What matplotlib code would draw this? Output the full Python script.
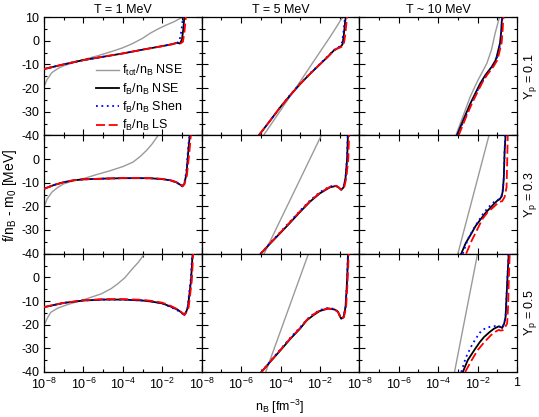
import numpy as np
import matplotlib
matplotlib.use('Agg')
import matplotlib.pyplot as plt
from matplotlib.ticker import FixedLocator, MultipleLocator, NullFormatter

plt.rcParams['font.family'] = ['Liberation Sans', 'DejaVu Sans']
plt.rcParams['mathtext.default'] = 'regular'

# column / row labels
temps = ['T = 1 MeV', 'T = 5 MeV', 'T ~ 10 MeV']
yps = ['0.1', '0.3', '0.5']
series_labels = [r'f$_{tot}$/n$_B$ NSE', r'f$_B$/n$_B$ NSE',
                 r'f$_B$/n$_B$ Shen', r'f$_B$/n$_B$ LS']

# ---- T = 1 MeV, Yp = 0.1 (x values are log10 n_B) ----
t1_y1_tot_x = [-8, -7.85, -7.6, -7.3, -7, -6.5, -6, -5.2, -4.5, -4, -3.5, -3, -2.6, -2.2, -1.8, -1.4, -1.1, -0.95]
t1_y1_tot_f = [-19.5, -16.5, -13.5, -11.8, -10.6, -9.3, -8.0, -6.2, -4.4, -3.0, -1.2, 1.0, 3.2, 5.0, 6.6, 8.0, 9.4, 10]
t1_y1_nse_x = [-8, -7, -6, -5, -4, -3, -2, -1.5, -1.25, -1.1, -1.0, -0.93, -0.88]
t1_y1_nse_f = [-12, -10, -8.2, -6.8, -5.4, -3.8, -2.3, -1.5, -0.9, -1.2, 0.5, 5, 10]
t1_y1_shen_x = [-8, -7, -6, -5, -4, -3, -2, -1.5, -1.25, -1.15, -1.07, -1.0, -0.95]
t1_y1_shen_f = [-12, -10, -8.2, -6.8, -5.4, -3.8, -2.3, -1.5, -0.9, -0.5, 2, 6, 10]
t1_y1_ls_x = [-8, -7, -6, -5, -4, -3, -2, -1.5, -1.25, -1.1, -0.95, -0.87, -0.8]
t1_y1_ls_f = [-12, -10, -8.2, -6.8, -5.4, -3.8, -2.3, -1.5, -0.9, -1.3, -0.5, 4, 10]

# ---- T = 5 MeV, Yp = 0.1 ----
t5_y1_tot_x = [-4.86, -4, -3, -2, -1.5, -1.1, -0.95, -0.8]
t5_y1_tot_f = [-40, -29.5, -17.2, -4.8, 1.4, 6.6, 8.7, 10]
t5_y1_nse_x = [-5.1, -4.5, -4, -3.5, -3, -2.5, -2, -1.6, -1.3, -1.1, -0.95, -0.85, -0.78, -0.72, -0.69]
t5_y1_nse_f = [-40, -33.5, -28, -23, -18.3, -14, -10, -6.8, -4.2, -3.2, -2.6, -1.5, 3, 8, 10]
t5_y1_shen_x = [-5.1, -4.5, -4, -3.5, -3, -2.5, -2, -1.6, -1.3, -1.1, -0.95, -0.87, -0.8, -0.75, -0.72]
t5_y1_shen_f = [-40, -33.5, -28, -22.8, -18.1, -13.8, -9.8, -6.6, -4.0, -3.0, -2.2, -0.5, 4, 8, 10]
t5_y1_ls_x = [-5.1, -4.5, -4, -3.5, -3, -2.5, -2, -1.6, -1.3, -1.1, -0.95, -0.8, -0.72, -0.66, -0.62]
t5_y1_ls_f = [-40, -33.5, -28, -23, -18.3, -14, -10, -6.8, -4.2, -3.2, -2.8, -2.0, 2, 7, 10]

# ---- T ~ 10 MeV, Yp = 0.1 ----
t10_y1_tot_x = [-3.1, -2.7, -2.38, -2.0, -1.53, -1.3, -1.11, -1.0, -0.92, -0.88]
t10_y1_tot_f = [-40, -31, -23.8, -17, -9.6, -4, 3.1, 6.5, 9, 10]
t10_y1_nse_x = [-3.05, -2.7, -2.37, -2.1, -1.86, -1.6, -1.28, -1.1, -1.03, -0.95, -0.86, -0.8, -0.77, -0.74]
t10_y1_nse_f = [-40, -33, -26.6, -22, -18, -14.5, -11, -8.5, -6.8, -4, -1, 4, 8.7, 10]
t10_y1_shen_x = [-3.02, -2.66, -2.33, -2.06, -1.82, -1.56, -1.25, -1.08, -1.0, -0.92, -0.84, -0.79, -0.76, -0.73]
t10_y1_shen_f = [-40, -33, -26.6, -22, -18, -14.5, -11, -8.5, -6.8, -4, -1, 4, 8.7, 10]
t10_y1_ls_x = [-2.96, -2.62, -2.29, -2.02, -1.78, -1.52, -1.2, -1.02, -0.95, -0.87, -0.78, -0.73, -0.7, -0.68]
t10_y1_ls_f = [-40, -33, -26.6, -22, -18, -14.5, -11, -8.5, -6.8, -4, -1, 4, 8.7, 10]

# ---- T = 1 MeV, Yp = 0.3 ----
t1_y3_tot_x = [-8, -7.85, -7.6, -7.3, -7, -6.5, -6, -5.3, -4.66, -4.0, -3.48, -3.1, -2.8, -2.5, -2.21]
t1_y3_tot_f = [-20.5, -17, -14, -12, -10.5, -9.2, -8.3, -6.5, -5.0, -3.2, -1.3, 1.2, 3.6, 6.5, 10]
t1_y3_nse_x = [-8, -7.5, -7, -6.5, -6, -5, -4, -3, -2.5, -2, -1.6, -1.3, -1.1, -0.98, -0.88, -0.77, -0.7, -0.65, -0.6]
t1_y3_nse_f = [-12.6, -11, -9.8, -9, -8.6, -8.3, -8.1, -8.1, -8.2, -8.5, -9.0, -9.8, -10.8, -11.6, -10.5, -6.2, 1, 6, 10]
t1_y3_shen_x = [-8, -7.5, -7, -6.5, -6, -5, -4, -3, -2.5, -2, -1.6, -1.3, -1.1, -0.98, -0.88, -0.78, -0.72, -0.67, -0.62]
t1_y3_shen_f = [-12.6, -11, -9.8, -9, -8.6, -8.3, -8.1, -8.1, -8.2, -8.5, -9.0, -9.8, -10.8, -11.4, -10.2, -5.5, 1, 6, 10]
t1_y3_ls_x = [-8, -7.5, -7, -6.5, -6, -5, -4, -3, -2.5, -2, -1.6, -1.3, -1.1, -0.98, -0.88, -0.75, -0.66, -0.6, -0.55]
t1_y3_ls_f = [-12.6, -11, -9.8, -9, -8.6, -8.3, -8.0, -8.0, -8.1, -8.4, -8.9, -9.7, -10.6, -11.4, -10.8, -7.0, 0, 5, 10]

# ---- T = 5 MeV, Yp = 0.3 ----
t5_y3_tot_x = [-4.83, -4, -3, -2.2, -2.0, -1.92]
t5_y3_tot_f = [-40, -25.7, -8.5, 5.3, 8.8, 10]
t5_y3_nse_x = [-5, -4.5, -4, -3.5, -3, -2.5, -2, -1.5, -1.2, -1.05, -0.92, -0.8, -0.7, -0.62, -0.58]
t5_y3_nse_f = [-40, -35.5, -31.2, -26.8, -22.3, -18, -14.5, -12, -11.4, -12.0, -13, -12, -8, 0, 10]
t5_y3_shen_x = [-5, -4.5, -4, -3.5, -3, -2.5, -2, -1.5, -1.2, -1.05, -0.92, -0.8, -0.7, -0.63, -0.59]
t5_y3_shen_f = [-40, -35.3, -30.8, -26.3, -21.8, -17.5, -14.0, -11.6, -11.2, -11.9, -12.9, -12, -8, 0, 10]
t5_y3_ls_x = [-5, -4.5, -4, -3.5, -3, -2.5, -2, -1.5, -1.2, -1.05, -0.92, -0.78, -0.66, -0.56, -0.52]
t5_y3_ls_f = [-40, -35.4, -31.0, -26.5, -22.0, -17.8, -14.3, -11.8, -11.3, -12.0, -13.0, -12.5, -8, 0, 10]

# ---- T ~ 10 MeV, Yp = 0.3 ----
t10_y3_tot_x = [-3.0, -2.2, -1.42]
t10_y3_tot_f = [-40, -14.7, 10]
t10_y3_nse_x = [-2.83, -2.6, -2.33, -2.1, -1.83, -1.6, -1.33, -1.15, -1.0, -0.88, -0.78, -0.72, -0.67, -0.63, -0.58]
t10_y3_nse_f = [-40, -35.5, -31.7, -28.3, -25.3, -22.8, -20.4, -18.8, -17.6, -17.0, -15.8, -13.5, -8, 3, 10]
t10_y3_shen_x = [-2.75, -2.5, -2.17, -1.9, -1.67, -1.4, -1.17, -1.0, -0.88, -0.78, -0.72, -0.67, -0.63, -0.6]
t10_y3_shen_f = [-40, -34, -29, -25.5, -22.5, -20, -18.2, -17.4, -16.8, -15.5, -13, -8, 3, 10]
t10_y3_ls_x = [-2.58, -2.3, -2.0, -1.75, -1.5, -1.2, -0.92, -0.75, -0.63, -0.53, -0.5, -0.47]
t10_y3_ls_f = [-40, -34.5, -29.5, -25.3, -22.6, -20.4, -18.2, -17.8, -16.1, -11.9, -2, 10]

# ---- T = 1 MeV, Yp = 0.5 ----
t1_y5_tot_x = [-8, -7.85, -7.66, -7.3, -6.8, -6, -5.1, -4.6, -4.27, -3.9, -3.6, -3.2, -2.9]
t1_y5_tot_f = [-20.5, -17.5, -14.8, -13, -11.5, -9.5, -7, -4.8, -2.8, -0.2, 2.8, 6.5, 10]
t1_y5_nse_x = [-8, -7, -6, -5, -4, -3, -2.5, -2, -1.56, -1.22, -1.0, -0.88, -0.78, -0.7, -0.62, -0.54, -0.46]
t1_y5_nse_f = [-12.6, -10.8, -9.8, -9.4, -9.4, -9.8, -10.3, -11, -12.4, -13.7, -15, -15.9, -14.5, -12.6, -7, -1.4, 10]
t1_y5_shen_x = [-8, -7, -6, -5, -4, -3, -2.5, -2, -1.56, -1.22, -1.0, -0.88, -0.79, -0.71, -0.64, -0.56, -0.48]
t1_y5_shen_f = [-12.6, -10.8, -9.8, -9.4, -9.4, -9.8, -10.3, -11, -12.6, -14.0, -15.2, -15.9, -14.5, -12.6, -7, -1.4, 10]
t1_y5_ls_x = [-8, -7, -6, -5, -4, -3, -2.5, -2, -1.56, -1.22, -1.0, -0.86, -0.74, -0.66, -0.58, -0.5, -0.43]
t1_y5_ls_f = [-12.6, -10.8, -9.7, -9.2, -9.2, -9.5, -10.0, -10.7, -12.1, -13.5, -14.9, -15.8, -14.5, -12.6, -7, -1.4, 10]

# ---- T = 5 MeV, Yp = 0.5 ----
t5_y5_tot_x = [-4.75, -3.7, -2.58]
t5_y5_tot_f = [-40, -15.8, 10]
t5_y5_nse_x = [-4.97, -4.5, -4, -3.5, -3, -2.67, -2.3, -2, -1.58, -1.25, -1.08, -0.98, -0.92, -0.8, -0.7, -0.63, -0.57]
t5_y5_nse_f = [-40, -35.5, -30.8, -26, -21.6, -18.2, -15.8, -14.2, -13.2, -13.6, -14.6, -16.5, -17.5, -16.8, -12.5, -2.7, 10]
t5_y5_shen_x = [-4.97, -4.5, -4, -3.5, -3, -2.67, -2.3, -2, -1.58, -1.25, -1.08, -0.98, -0.92, -0.8, -0.7, -0.63, -0.58]
t5_y5_shen_f = [-40, -35.3, -30.4, -25.5, -21.1, -17.8, -15.3, -13.8, -12.9, -13.4, -14.5, -16.4, -17.4, -16.8, -12.5, -2.7, 10]
t5_y5_ls_x = [-4.97, -4.5, -4, -3.5, -3, -2.67, -2.3, -2, -1.58, -1.25, -1.08, -0.98, -0.92, -0.78, -0.67, -0.6, -0.54]
t5_y5_ls_f = [-40, -35.4, -30.6, -25.8, -21.4, -18.0, -15.5, -14.0, -13.1, -13.6, -14.7, -16.6, -17.6, -16.8, -12.5, -2.7, 10]

# ---- T ~ 10 MeV, Yp = 0.5 ----
t10_y5_tot_x = [-3.17, -2.6, -2.0]
t10_y5_tot_f = [-40, -15.6, 10]
t10_y5_nse_x = [-2.75, -2.5, -2.17, -1.9, -1.67, -1.4, -1.17, -1.0, -0.92, -0.83, -0.75, -0.65, -0.58, -0.5, -0.42]
t10_y5_nse_f = [-40, -35, -30.8, -27.5, -25.2, -23.2, -21.7, -21.0, -20.7, -21.0, -21.4, -19.5, -16.7, -2.7, 10]
t10_y5_shen_x = [-2.83, -2.6, -2.33, -2.1, -1.83, -1.6, -1.33, -1.1, -0.92, -0.83, -0.75, -0.65, -0.58, -0.5, -0.43]
t10_y5_shen_f = [-40, -34, -29.3, -26, -22.8, -21.5, -20.8, -20.6, -20.7, -21.0, -21.4, -19.5, -16.7, -2.7, 10]
t10_y5_ls_x = [-2.63, -2.3, -2.0, -1.67, -1.33, -1.1, -0.92, -0.83, -0.72, -0.6, -0.5, -0.45, -0.42, -0.37]
t10_y5_ls_f = [-40, -35, -30.8, -27.5, -24.5, -23, -22.2, -22.5, -22.3, -21, -19.5, -12, -2.7, 10]

panels = [
    [(t1_y1_tot_x, t1_y1_tot_f, t1_y1_nse_x, t1_y1_nse_f, t1_y1_shen_x, t1_y1_shen_f, t1_y1_ls_x, t1_y1_ls_f),
     (t5_y1_tot_x, t5_y1_tot_f, t5_y1_nse_x, t5_y1_nse_f, t5_y1_shen_x, t5_y1_shen_f, t5_y1_ls_x, t5_y1_ls_f),
     (t10_y1_tot_x, t10_y1_tot_f, t10_y1_nse_x, t10_y1_nse_f, t10_y1_shen_x, t10_y1_shen_f, t10_y1_ls_x, t10_y1_ls_f)],
    [(t1_y3_tot_x, t1_y3_tot_f, t1_y3_nse_x, t1_y3_nse_f, t1_y3_shen_x, t1_y3_shen_f, t1_y3_ls_x, t1_y3_ls_f),
     (t5_y3_tot_x, t5_y3_tot_f, t5_y3_nse_x, t5_y3_nse_f, t5_y3_shen_x, t5_y3_shen_f, t5_y3_ls_x, t5_y3_ls_f),
     (t10_y3_tot_x, t10_y3_tot_f, t10_y3_nse_x, t10_y3_nse_f, t10_y3_shen_x, t10_y3_shen_f, t10_y3_ls_x, t10_y3_ls_f)],
    [(t1_y5_tot_x, t1_y5_tot_f, t1_y5_nse_x, t1_y5_nse_f, t1_y5_shen_x, t1_y5_shen_f, t1_y5_ls_x, t1_y5_ls_f),
     (t5_y5_tot_x, t5_y5_tot_f, t5_y5_nse_x, t5_y5_nse_f, t5_y5_shen_x, t5_y5_shen_f, t5_y5_ls_x, t5_y5_ls_f),
     (t10_y5_tot_x, t10_y5_tot_f, t10_y5_nse_x, t10_y5_nse_f, t10_y5_shen_x, t10_y5_shen_f, t10_y5_ls_x, t10_y5_ls_f)],
]

styles = [
    dict(color='#9a9a9a', lw=1.0, ls='-'),
    dict(color='black', lw=1.3, ls='-'),
    dict(color='#0000ff', lw=1.3, ls=(0, (1, 2))),
    dict(color='#ff0000', lw=1.3, ls=(0, (5, 2))),
]

W, H = 539, 417
fig, axes = plt.subplots(3, 3, figsize=(W / 100, H / 100), dpi=100)
fig.subplots_adjust(left=44 / W, right=517 / W, top=1 - 17 / H, bottom=1 - 372 / H,
                    wspace=0, hspace=0)

fs = 9
for r in range(3):
    for c in range(3):
        ax = axes[r, c]
        d = panels[r][c]
        for k in range(4):
            ax.plot(10.0 ** np.array(d[2 * k]), d[2 * k + 1], label=series_labels[k],
                    zorder=2 + k, **styles[k])
        ax.set_xscale('log')
        ax.set_xlim(1e-8, 1)
        ax.set_ylim(-40, 10)
        ax.xaxis.set_major_locator(FixedLocator([1e-8, 1e-6, 1e-4, 1e-2, 1]))
        ax.xaxis.set_minor_locator(FixedLocator([1e-7, 1e-5, 1e-3, 1e-1]))
        ax.xaxis.set_minor_formatter(NullFormatter())
        ax.yaxis.set_major_locator(MultipleLocator(10))
        ax.yaxis.set_minor_locator(MultipleLocator(5))
        ax.tick_params(which='both', direction='in', top=True, right=True,
                       labelsize=fs, width=0.8)
        ax.tick_params(which='major', length=4.5, pad=3.5)
        ax.tick_params(which='minor', length=2.5)
        for s in ax.spines.values():
            s.set_linewidth(0.9)
        if r == 2:
            xl = [r'$10^{-8}$', r'$10^{-6}$', r'$10^{-4}$', r'$10^{-2}$', '1' if c == 2 else '']
            ax.set_xticklabels(xl)
        else:
            ax.set_xticklabels([])
        if c == 0:
            yl = ['-40', '-30', '-20', '-10', '0', '10' if r == 0 else '']
            ax.set_yticks([-40, -30, -20, -10, 0, 10])
            ax.set_yticklabels(yl)
        else:
            ax.set_yticklabels([])
        if r == 0:
            ax.set_title(temps[c], fontsize=fs, pad=3)
        if c == 2:
            ax.text(1.085, 0.5, r'Y$_p$ = ' + yps[r], transform=ax.transAxes,
                    rotation=90, ha='center', va='center', fontsize=fs)

axes[0, 0].legend(loc='center left', bbox_to_anchor=(0.33, 0.314), frameon=False,
                  fontsize=fs, handlelength=1.8, handletextpad=0.3,
                  labelspacing=0.25, borderpad=0, borderaxespad=0)

fig.text(10 / W, 1 - 195 / H, r'f/n$_B$ - m$_0$ [MeV]', rotation=90,
         ha='center', va='center', fontsize=fs + 1)
fig.text(280 / W, 1 - 407 / H, r'n$_B$ [fm$^{-3}$]', ha='center', va='center',
         fontsize=fs)

fig.savefig('out.png', dpi=100)
